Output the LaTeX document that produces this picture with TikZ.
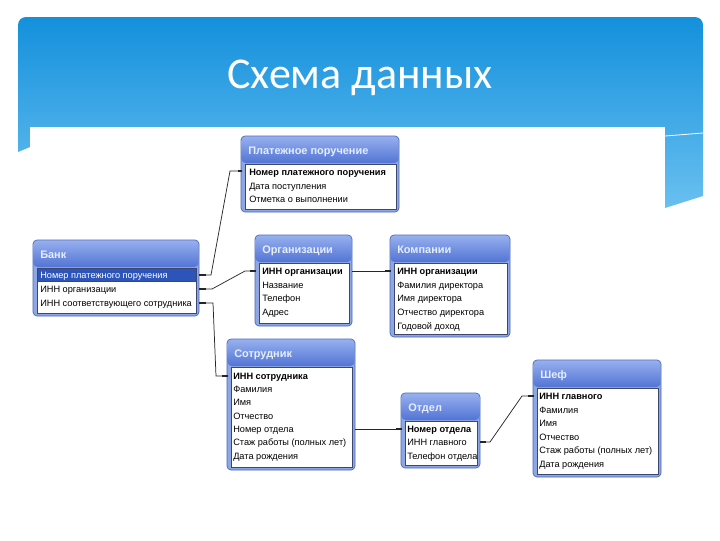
\documentclass[tikz,border=0pt]{standalone}
\usepackage{fontspec}
\setmainfont{Liberation Sans}
\newfontfamily\titlefont{Carlito}
\definecolor{paneltop}{RGB}{20,144,220}
\definecolor{panelbot}{RGB}{105,192,240}
\definecolor{hdtop}{RGB}{150,175,238}
\definecolor{hdbot}{RGB}{82,116,212}
\definecolor{framec}{RGB}{142,166,228}
\definecolor{frameline}{RGB}{72,102,186}
\definecolor{bodyline}{RGB}{60,70,110}
\definecolor{selrow}{RGB}{45,85,185}
\definecolor{hdtext}{RGB}{228,238,255}
\tikzset{
  hdtitle/.style={anchor=base west, yshift=-3pt, inner sep=0pt, text=hdtext, font=\fontsize{8.2}{9}\selectfont\bfseries},
  rowtext/.style={anchor=base west, yshift=-2.5pt, inner sep=0pt, text=black, font=\fontsize{6.9}{8}\selectfont},
  keytext/.style={rowtext, font=\fontsize{6.9}{8}\selectfont\bfseries},
  conn/.style={draw=black!85, line width=0.55pt},
  stub/.style={draw=black!85, line width=1.6pt},
}
\newcommand{\ertable}[6]{%
  \fill[framec, draw=frameline, line width=0.5pt, rounded corners=3] (#2,#3) rectangle (#4,#5);
  \shade[top color=hdtop, bottom color=hdbot, rounded corners=3] (#2+0.6,#3+0.6) rectangle (#4-0.6,#3+27);
  \node[hdtitle] (#1) at (#2+7,#3+14) {#6};
  \fill[white, draw=bodyline, line width=0.5pt] (#2+4,#3+28) rectangle (#4-3,#5-3);
}
\begin{document}
\begin{tikzpicture}[x=0.75pt, y=-0.75pt]
\useasboundingbox (0,0) rectangle (720,540);
\fill[white] (0,0) rectangle (720,540);
% blue title panel
\shade[top color=paneltop, bottom color=panelbot]
  (18,152) [rounded corners=6] -- (18,17) -- (703,17) [sharp corners] -- (703,196) -- (665,208) -- (665,127)
  -- (30,127) -- (30,147) -- cycle;
\draw[white, line width=0.6pt] (665,136) -- (703,133);
\fill[white] (30,127) rectangle (665,500);
\node[text=white, font=\titlefont\fontsize{33}{36}\selectfont] (title) at (360,78) {Схема данных};

% tables
\ertable{payT}{241}{136}{399}{212}{Платежное поручение}
\node[keytext] (pay1) at (249,172) {Номер платежного поручения};
\node[rowtext] (pay2) at (249,186) {Дата поступления};
\node[rowtext] (pay3) at (249,199) {Отметка о выполнении};

\ertable{bankT}{33}{240}{199}{316}{Банк}
\fill[selrow, draw=bodyline, line width=0.5pt] (37,268.5) rectangle (196,281.5);
\node[rowtext, text=white] (bank1) at (40,275) {Номер платежного поручения};
\node[rowtext] (bank2) at (40,289) {ИНН организации};
\node[rowtext] (bank3) at (40,303) {ИНН соответствующего сотрудника};

\ertable{orgT}{255}{235}{352}{326}{Организации}
\node[keytext] (org1) at (262,271) {ИНН организации};
\node[rowtext] (org2) at (262,285) {Название};
\node[rowtext] (org3) at (262,298) {Телефон};
\node[rowtext] (org4) at (262,312) {Адрес};

\ertable{komT}{390}{235}{510}{337}{Компании}
\node[keytext] (kom1) at (397,271) {ИНН организации};
\node[rowtext] (kom2) at (397,285) {Фамилия директора};
\node[rowtext] (kom3) at (397,298) {Имя директора};
\node[rowtext] (kom4) at (397,312) {Отчество директора};
\node[rowtext] (kom5) at (397,326) {Годовой доход};

\ertable{sotT}{227}{339}{355}{470}{Сотрудник}
\node[keytext] (sot1) at (233,376) {ИНН сотрудника};
\node[rowtext] (sot2) at (233,389) {Фамилия};
\node[rowtext] (sot3) at (233,402) {Имя};
\node[rowtext] (sot4) at (233,416) {Отчество};
\node[rowtext] (sot5) at (233,429) {Номер отдела};
\node[rowtext] (sot6) at (233,442) {Стаж работы (полных лет)};
\node[rowtext] (sot7) at (233,456) {Дата рождения};

\ertable{otdT}{401}{393}{480}{468}{Отдел}
\begin{scope}
\clip (405,421) rectangle (477,465);
\node[keytext] (otd1) at (407,429) {Номер отдела};
\node[rowtext] (otd2) at (407,442) {ИНН главного};
\node[rowtext] (otd3) at (407,456) {Телефон отдела};
\end{scope}

\ertable{shefT}{533}{360}{661}{477}{Шеф}
\node[keytext] (shef1) at (539,396) {ИНН главного};
\node[rowtext] (shef2) at (539,410) {Фамилия};
\node[rowtext] (shef3) at (539,423) {Имя};
\node[rowtext] (shef4) at (539,437) {Отчество};
\node[rowtext] (shef5) at (539,450) {Стаж работы (полных лет)};
\node[rowtext] (shef6) at (539,464) {Дата рождения};

% connector end points
\coordinate (b1E) at (199,275); \coordinate (b1S) at (206,275); \coordinate (b1K) at (211,275);
\coordinate (p1K) at (230,171); \coordinate (p1S) at (238,171); \coordinate (p1W) at (242,171);
\coordinate (b2E) at (199,289); \coordinate (b2S) at (206,289); \coordinate (b2K) at (212,289);
\coordinate (o1K) at (245,271); \coordinate (o1S) at (250,271); \coordinate (o1W) at (256,271);
\coordinate (b3E) at (199,303); \coordinate (b3S) at (206,303); \coordinate (b3K) at (213,303);
\coordinate (s1K) at (216,376); \coordinate (s1S) at (222,376); \coordinate (s1W) at (228,376);
\coordinate (o1E) at (352,271); \coordinate (k1S) at (385,271); \coordinate (k1W) at (391,271);
\coordinate (s5E) at (355,429); \coordinate (d1S) at (396,429); \coordinate (d1W) at (402,429);
\coordinate (d2E) at (480,442); \coordinate (d2S) at (486,442); \coordinate (d2K) at (490,442);
\coordinate (h1K) at (522,396); \coordinate (h1S) at (528,396); \coordinate (h1W) at (534,396);

% connectors
\draw[conn] (b1E) -- (b1K) -- (p1K) -- (p1W);
\draw[stub] (b1E) -- (b1S); \draw[stub] (p1S) -- (p1W);
\draw[conn] (b2E) -- (b2K) -- (o1K) -- (o1W);
\draw[stub] (b2E) -- (b2S); \draw[stub] (o1S) -- (o1W);
\draw[conn] (b3E) -- (b3K) -- (s1K) -- (s1W);
\draw[stub] (b3E) -- (b3S); \draw[stub] (s1S) -- (s1W);
\draw[conn] (o1E) -- (k1W);
\draw[stub] (k1S) -- (k1W);
\draw[conn] (s5E) -- (d1W);
\draw[stub] (d1S) -- (d1W);
\draw[conn] (d2E) -- (d2K) -- (h1K) -- (h1W);
\draw[stub] (d2E) -- (d2S); \draw[stub] (h1S) -- (h1W);
\end{tikzpicture}
\end{document}
